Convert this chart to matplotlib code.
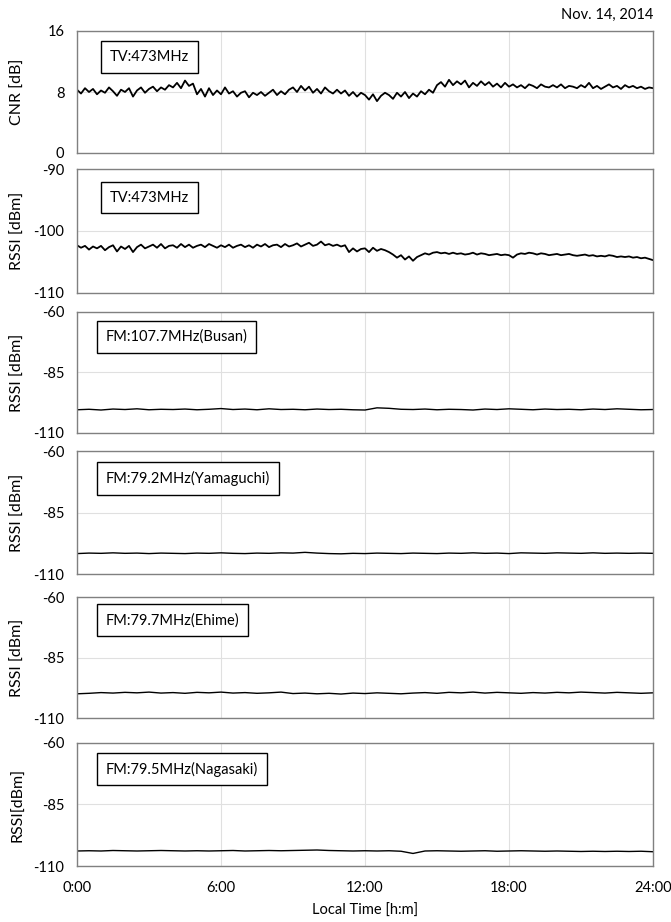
import numpy as np
import matplotlib.pyplot as plt

plt.rcParams['font.family'] = ['Lato', 'DejaVu Sans']
plt.rcParams['axes.unicode_minus'] = False

# sample times [h]: 10 min for the TV panels, 30 min for the FM panels
t_tv = np.arange(145) / 6.
t_fm = np.arange(49) / 2.

# TV 473MHz CNR [dB]
cnr_tv = [8.3, 7.8, 8.5, 8.0, 8.4, 7.7, 8.2, 7.9, 8.6, 8.1, 7.5, 8.3,
          8.0, 8.5, 7.4, 8.2, 8.6, 7.9, 8.4, 8.7, 8.1, 8.6, 8.3, 8.9,
          8.6, 9.2, 8.5, 9.5, 8.8, 9.1, 7.7, 8.4, 7.4, 8.5, 7.6, 8.2,
          7.7, 8.6, 7.8, 8.1, 7.4, 7.9, 8.1, 7.3, 7.9, 7.6, 8.0, 7.5,
          7.9, 8.3, 7.6, 8.1, 7.7, 8.3, 8.6, 8.0, 8.8, 8.2, 8.7, 7.9,
          8.4, 7.8, 8.6, 8.1, 7.8, 8.3, 7.8, 8.2, 7.5, 8.0, 7.4, 7.9,
          7.6, 7.0, 7.7, 6.8, 7.5, 7.9, 7.6, 7.1, 7.9, 7.4, 8.0, 7.2,
          7.8, 7.4, 8.1, 7.7, 8.3, 7.9, 8.9, 9.3, 8.7, 9.6, 8.9, 9.4,
          9.0, 9.5, 8.6, 9.2, 8.8, 9.4, 8.9, 9.3, 8.7, 9.1, 8.6, 9.2,
          8.7, 9.0, 8.6, 8.9, 8.5, 9.0, 8.8, 8.5, 9.0, 8.7, 8.6, 8.9,
          8.6, 9.0, 8.5, 8.8, 8.7, 8.5, 8.9, 8.6, 9.2, 8.5, 8.8, 8.4,
          8.7, 9.0, 8.6, 8.8, 8.4, 8.9, 8.6, 8.8, 8.5, 8.7, 8.4, 8.6,
          8.5]

# TV 473MHz RSSI [dBm]
rssi_tv = [-102.3, -102.7, -102.4, -103.0, -102.5, -102.8, -102.4, -103.1, -102.6, -102.3, -103.3, -102.5,
           -102.9, -102.4, -103.4, -102.6, -102.2, -102.8, -102.5, -102.2, -102.7, -102.1, -102.8, -102.4,
           -102.3, -102.7, -102.1, -102.6, -102.2, -102.7, -102.4, -102.2, -102.6, -102.1, -102.4, -102.7,
           -102.3, -102.6, -102.2, -102.7, -102.4, -102.2, -102.6, -102.3, -102.7, -102.2, -102.5, -102.1,
           -102.6, -102.3, -102.2, -102.6, -102.1, -102.5, -102.3, -102.0, -102.5, -102.2, -101.9, -102.4,
           -102.2, -101.7, -102.3, -102.1, -102.4, -102.2, -102.5, -102.3, -103.4, -102.8, -103.3, -102.9,
           -102.8, -103.4, -102.7, -103.2, -102.9, -103.1, -103.4, -103.8, -104.3, -103.9, -104.6, -104.1,
           -104.8, -104.2, -103.9, -103.6, -103.8, -103.5, -103.4, -103.6, -103.5, -103.7, -103.5, -103.7,
           -103.6, -103.8, -103.7, -103.5, -103.8, -103.6, -103.7, -103.9, -103.8, -103.7, -103.9, -103.8,
           -103.9, -104.3, -103.8, -103.6, -103.7, -103.5, -103.6, -103.8, -103.6, -103.7, -103.9, -103.8,
           -103.7, -103.9, -103.8, -103.7, -103.9, -104.0, -103.9, -103.8, -104.0, -103.9, -104.1, -104.0,
           -104.1, -103.9, -104.0, -104.2, -104.1, -104.2, -104.1, -104.3, -104.2, -104.4, -104.3, -104.5,
           -104.7]

# FM RSSI [dBm]
rssi_busan = [-100.4, -100.2, -100.5, -100.1, -100.3, -100.0, -100.4, -100.2, -100.3, -100.1,
              -100.4, -100.2, -99.9, -100.3, -100.1, -100.4, -100.0, -100.3, -100.2, -100.4,
              -100.1, -100.3, -100.2, -100.4, -100.5, -99.6, -99.8, -100.2, -100.3, -100.1,
              -100.4, -100.2, -100.3, -100.5, -100.1, -100.3, -100.0, -100.2, -100.4, -100.1,
              -100.3, -100.2, -100.4, -100.1, -100.3, -100.0, -100.2, -100.4, -100.3]

rssi_yamaguchi = [-101.7, -101.5, -101.6, -101.4, -101.6, -101.5, -101.7, -101.5, -101.6, -101.7,
                  -101.5, -101.6, -101.4, -101.6, -101.7, -101.5, -101.6, -101.4, -101.5, -101.2,
                  -101.5, -101.7, -101.8, -101.6, -101.7, -101.5, -101.6, -101.7, -101.5, -101.6,
                  -101.7, -101.5, -101.6, -101.4, -101.6, -101.5, -101.7, -101.4, -101.5, -101.6,
                  -101.4, -101.5, -101.6, -101.4, -101.6, -101.5, -101.6, -101.5, -101.6]

rssi_ehime = [-100.0, -99.8, -99.5, -99.7, -99.4, -99.6, -99.3, -99.7, -99.5, -99.8,
              -99.4, -99.6, -99.3, -99.7, -99.5, -99.8, -99.6, -99.3, -99.9, -99.7,
              -100.0, -99.8, -100.1, -99.7, -99.9, -99.6, -99.8, -100.0, -99.7, -99.5,
              -99.8, -99.4, -99.6, -99.3, -99.7, -99.4, -99.6, -99.8, -99.5, -99.7,
              -99.4, -99.6, -99.3, -99.5, -99.7, -99.4, -99.6, -99.8, -99.6]

rssi_nagasaki = [-103.9, -103.8, -103.9, -103.7, -103.8, -103.9, -103.8, -103.7, -103.8, -103.9,
                 -103.8, -103.9, -103.8, -103.7, -103.9, -103.8, -103.7, -103.8, -103.7, -103.6,
                 -103.5, -103.7, -103.8, -103.9, -103.8, -103.9, -103.8, -104.0, -104.9, -103.9,
                 -103.8, -103.9, -104.0, -103.9, -103.8, -104.0, -103.9, -103.8, -103.9, -104.0,
                 -103.9, -104.0, -104.1, -104.0, -104.1, -104.0, -104.1, -104.0, -104.2]

labels = ['TV:473MHz', 'TV:473MHz', 'FM:107.7MHz(Busan)', 'FM:79.2MHz(Yamaguchi)',
          'FM:79.7MHz(Ehime)', 'FM:79.5MHz(Nagasaki)']
ylabels = ['CNR [dB]', 'RSSI [dBm]', 'RSSI [dBm]', 'RSSI [dBm]', 'RSSI [dBm]', 'RSSI[dBm]']
yticks = [[0, 8, 16], [-110, -100, -90], [-110, -85, -60], [-110, -85, -60],
          [-110, -85, -60], [-110, -85, -60]]
times = [t_tv, t_tv, t_fm, t_fm, t_fm, t_fm]
series = [cnr_tv, rssi_tv, rssi_busan, rssi_yamaguchi, rssi_ehime, rssi_nagasaki]

# panel frames in pixels (top, bottom) and label box (left, centre y in axes coords)
W, H = 671., 922.
rows = [(31, 153), (169, 293), (312, 433), (451, 574), (597, 718), (743, 866)]
boxpos = [(0.057, 0.785), (0.057, 0.77), (0.050, 0.795), (0.050, 0.777),
          (0.050, 0.808), (0.050, 0.787)]
x0, x1 = 77., 653.

fig = plt.figure(figsize=(W / 100, H / 100), dpi=100)
for i in range(6):
    top, bot = rows[i]
    ax = fig.add_axes([x0 / W, 1 - bot / H, (x1 - x0) / W, (bot - top) / H])
    ax.plot(times[i], series[i], color='black', lw=1.3 if i < 2 else 1.0)
    ax.set_xlim(0, 24)
    ax.set_ylim(yticks[i][0], yticks[i][-1])
    ax.set_yticks(yticks[i])
    ax.set_xticks([0, 6, 12, 18, 24])
    ax.grid(True, color='#e0e0e0', lw=0.8)
    ax.set_axisbelow(True)
    for s in ax.spines.values():
        s.set_color('#808080')
        s.set_linewidth(1.0)
    ax.tick_params(length=0, labelsize=10.5, pad=9)
    ax.tick_params(axis='x', pad=11)
    if i < 5:
        ax.set_xticklabels([])
    else:
        ax.set_xticklabels(['0:00', '6:00', '12:00', '18:00', '24:00'])
        ax.set_xlabel('Local Time [h:m]', fontsize=10.5, labelpad=6)
    ax.set_ylabel(ylabels[i], fontsize=11.5)
    ax.yaxis.set_label_coords(-0.09, 0.5)
    bx, by = boxpos[i]
    ax.text(bx, by, labels[i], transform=ax.transAxes, fontsize=10.5, va='center', ha='left',
            bbox=dict(boxstyle='square,pad=0.6', fc='white', ec='black', lw=1.0))

fig.text(x1 / W, 1 - 15 / H, 'Nov. 14, 2014', ha='right', va='center', fontsize=10.5)

plt.savefig('out.png', dpi=100)
